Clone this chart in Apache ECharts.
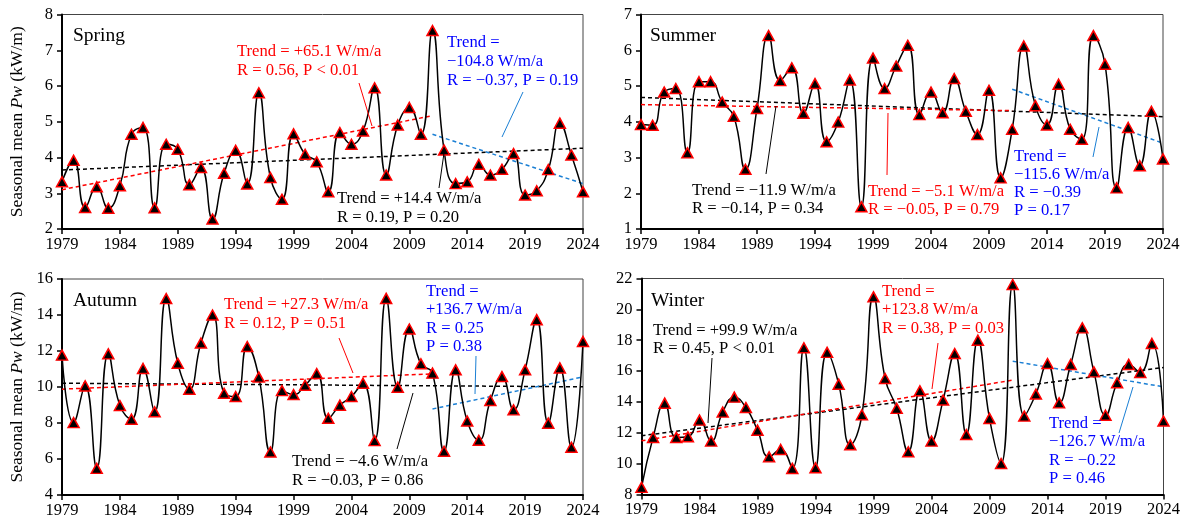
<!DOCTYPE html>
<html>
<head>
<meta charset="utf-8">
<script src="https://cdn.jsdelivr.net/npm/echarts@6/dist/echarts.min.js"></script>
<style>
html,body{margin:0;padding:0;background:#fff;}
#chart{width:1189px;height:529px;}
</style>
</head>
<body>
<div id="chart"></div>
<script>
// ---------------- DATA ----------------
const years = ['1979','1980','1981','1982','1983','1984','1985','1986','1987','1988','1989','1990','1991','1992','1993','1994','1995','1996','1997','1998','1999','2000','2001','2002','2003','2004','2005','2006','2007','2008','2009','2010','2011','2012','2013','2014','2015','2016','2017','2018','2019','2020','2021','2022','2023','2024'];

const spring = [3.32,3.92,2.60,3.18,2.58,3.21,4.65,4.84,2.59,4.37,4.23,3.24,3.72,2.28,3.56,4.20,3.26,5.81,3.44,2.83,4.66,
  4.09,3.88,3.04,4.70,4.37,4.74,5.95,3.51,4.91,5.40,4.65,7.55,4.21,3.27,3.32,3.81,3.51,3.67,4.11,2.95,3.07,3.66,4.96,4.07,3.04];
const summer = [3.92,3.90,4.83,4.93,3.13,5.12,5.12,4.55,4.15,2.67,4.37,6.41,5.15,5.51,4.24,5.07,3.44,3.99,5.17,1.62,5.78,
  4.93,5.56,6.14,4.20,4.83,4.25,5.21,4.29,3.64,4.88,2.43,3.79,6.12,4.45,3.91,5.05,3.79,3.51,6.41,5.61,2.15,3.84,2.77,4.29,2.96];
const autumn = [11.77,8.02,10.06,5.48,11.84,8.97,8.21,11.03,8.62,14.91,11.32,9.88,12.44,14.00,9.65,9.47,12.25,10.55,6.39,9.80,9.58,
  10.10,10.75,8.26,8.99,9.47,10.21,7.02,14.92,9.99,13.22,11.29,10.77,6.43,10.95,8.11,7.04,9.25,10.58,8.73,10.95,13.74,7.99,11.06,6.65,12.53];
const winter = [8.46,11.70,13.92,11.70,11.74,12.82,11.46,13.34,14.31,13.64,12.17,10.44,10.92,9.69,17.51,9.73,17.21,15.15,11.22,13.17,20.81,
  15.52,13.58,10.77,14.72,11.46,14.12,17.14,11.89,18.00,12.93,10.01,21.61,13.08,14.51,16.49,13.94,16.43,18.80,15.95,13.14,15.24,16.43,15.91,17.79,12.76];

// trend line end points: [start, end]
const trendAllYears = ['1979','2024'];
const trendEarlyYears = ['1979','2011'];
const trendLateYears = ['2011','2024'];
const springTrend = {all:[3.65,4.26], early:[3.10,5.17], late:[4.65,3.27]};
const summerTrend = {all:[4.68,4.14], early:[4.48,4.31], late:[4.91,3.40]};
const autumnTrend = {all:[10.21,10.01], early:[9.88,10.73], late:[8.78,10.56]};
const winterTrend = {all:[11.81,16.23], early:[11.48,15.41], late:[16.64,14.98]};

// y axis ranges [min, max, interval]
const springY = [2,8,1];
const summerY = [1,7,1];
const autumnY = [4,16,2];
const winterY = [8,22,2];

const seasonNames = ['Spring','Summer','Autumn','Winter'];

// ---------------- CHART ----------------
const FONT = '"Liberation Serif","Times New Roman",serif';
const RED = '#ff0000', BLUE_TXT = '#0000ff', BLUE_LINE = '#1a7fd4';
const AFS = 16.6; // annotation font size

const grids = [
  {left:62, top:14.5, width:521, height:214.5},
  {left:641, top:14.5, width:522, height:214.5},
  {left:62, top:279, width:521, height:216},
  {left:641.5, top:278.5, width:522, height:216}
];
const seasonData = [spring, summer, autumn, winter];
const seasonTrend = [springTrend, summerTrend, autumnTrend, winterTrend];
const seasonY = [springY, summerY, autumnY, winterY];

const option = {
  animation:false,
  backgroundColor:'#fff',
  grid: grids.map(g => Object.assign({show:true, borderColor:'#444', borderWidth:1, containLabel:false}, g)),
  xAxis: grids.map((g,i) => ({
    type:'category', gridIndex:i, data:years, boundaryGap:false,
    axisLine:{show:true, lineStyle:{color:'#000', width:2}},
    axisTick:{show:true, interval:4, length:5, inside:false, lineStyle:{color:'#000', width:1.5}},
    axisLabel:{interval:4, fontFamily:FONT, fontSize:16.5, color:'#000', margin:7},
    splitLine:{show:false}
  })),
  yAxis: grids.map((g,i) => ({
    type:'value', gridIndex:i, min:seasonY[i][0], max:seasonY[i][1], interval:seasonY[i][2],
    axisLine:{show:true, lineStyle:{color:'#000', width:2}},
    axisTick:{show:true, length:5, lineStyle:{color:'#000', width:1.5}},
    axisLabel:{fontFamily:FONT, fontSize:16.5, color:'#000', margin:9},
    splitLine:{show:false},
    name: (i % 2 === 0) ? 'Seasonal mean {i|Pw} (kW/m)' : '',
    nameLocation:'middle', nameGap:36, nameRotate:90,
    nameTextStyle:{fontFamily:FONT, fontSize:17.5, color:'#000',
      rich:{i:{fontFamily:FONT, fontSize:17.5, fontStyle:'italic', color:'#000'}}}
  })),
  series: []
};

function trendSeries(i, xs, ys, color){
  return {
    type:'line', xAxisIndex:i, yAxisIndex:i, symbol:'none', silent:true, z:1,
    data:[[xs[0], ys[0]],[xs[1], ys[1]]],
    lineStyle:{color:color, width:1.5, type:[4,3]}
  };
}

for (let i=0;i<4;i++){
  option.series.push(trendSeries(i, trendAllYears, seasonTrend[i].all, '#000'));
  option.series.push(trendSeries(i, trendEarlyYears, seasonTrend[i].early, RED));
  option.series.push(trendSeries(i, trendLateYears, seasonTrend[i].late, BLUE_LINE));
  option.series.push({
    type:'line', xAxisIndex:i, yAxisIndex:i, data:seasonData[i], smooth:0.5, z:3,
    showAllSymbol:true,
    symbol:'triangle', symbolSize:[11,10],
    lineStyle:{color:'#000', width:1.5},
    itemStyle:{color:'#000', borderColor:RED, borderWidth:1.5}
  });
}

// ---------------- ANNOTATIONS ----------------
function txt(left, top, text, color, size, lh){
  return {type:'text', x:left, y:top, z:100, silent:true,
    style:{text:text, fill:color, font:(size||AFS)+'px '+FONT, lineHeight:lh||18.5, textVerticalAlign:'top'}};
}
function ln(x1,y1,x2,y2,color){
  return {type:'line', z:100, silent:true, shape:{x1:x1,y1:y1,x2:x2,y2:y2}, style:{stroke:color, lineWidth:1}};
}

option.graphic = [
  // panel titles
  txt(73, 26.5, seasonNames[0], '#000', 19.5),
  txt(650, 26.5, seasonNames[1], '#000', 19.5),
  txt(73, 291.5, seasonNames[2], '#000', 19.5),
  txt(651, 291.5, seasonNames[3], '#000', 19.5),

  // Spring
  txt(237, 42, 'Trend = +65.1 W/m/a\nR = 0.56, P < 0.01', RED, AFS, 19),
  ln(359,83,372,126, RED),
  txt(447, 33, 'Trend =\n\u2212104.8 W/m/a\nR = \u22120.37, P = 0.19', BLUE_TXT, AFS, 19),
  ln(523,92,502,137, BLUE_LINE),
  txt(337, 189, 'Trend = +14.4 W/m/a\nR = 0.19, P = 0.20', '#000', AFS, 19),
  ln(439,188,444,153, '#000'),

  // Summer
  txt(692, 182, 'Trend = \u221211.9 W/m/a\nR = \u22120.14, P = 0.34', '#000', AFS, 17.5),
  ln(766,174,776,106, '#000'),
  txt(868, 182, 'Trend = \u22125.1 W/m/a\nR = \u22120.05, P = 0.79', RED, AFS, 18.3),
  ln(887,175,888,113, RED),
  txt(1014, 147, 'Trend =\n\u2212115.6 W/m/a\nR = \u22120.39\nP = 0.17', BLUE_TXT, AFS, 18.3),
  ln(1093,157,1099,127, BLUE_LINE),

  // Autumn
  txt(224, 295, 'Trend = +27.3 W/m/a\nR = 0.12, P = 0.51', RED, AFS, 19),
  ln(339,338,353,373, RED),
  txt(426, 282, 'Trend =\n+136.7 W/m/a\nR = 0.25\nP = 0.38', BLUE_TXT, AFS, 18.5),
  ln(476,356,475,394, BLUE_LINE),
  txt(292, 452, 'Trend = \u22124.6 W/m/a\nR = \u22120.03, P = 0.86', '#000', AFS, 19),
  ln(397,449,413,393, '#000'),

  // Winter
  txt(653, 321, 'Trend = +99.9 W/m/a\nR = 0.45, P < 0.01', '#000', AFS, 18.5),
  ln(712,358,708,423, '#000'),
  txt(882, 282, 'Trend =\n+123.8 W/m/a\nR = 0.38, P = 0.03', RED, AFS, 18.5),
  ln(938,343,932,389, RED),
  txt(1049, 414, 'Trend =\n\u2212126.7 W/m/a\nR = \u22120.22\nP = 0.46', BLUE_TXT, AFS, 18.6),
  ln(1119,433,1133,387, BLUE_LINE)
];

const chart = echarts.init(document.getElementById('chart'), null, {renderer:'canvas'});
chart.setOption(option);
</script>
</body>
</html>
